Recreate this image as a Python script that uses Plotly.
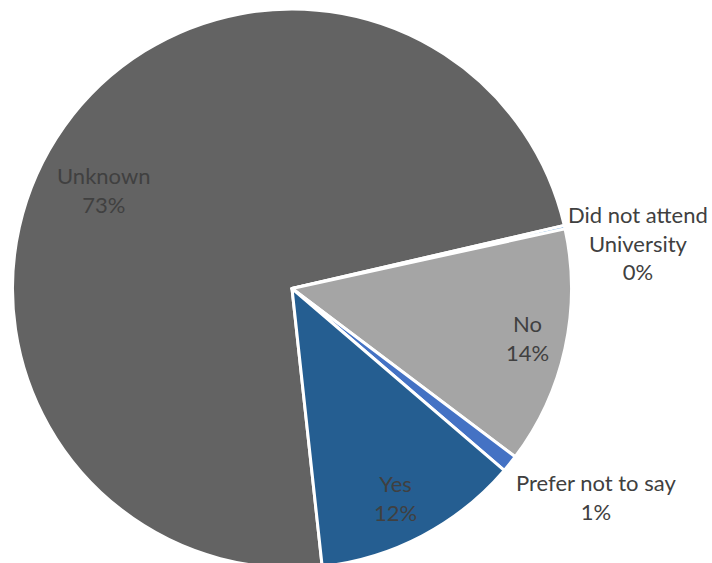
import plotly.graph_objects as go

categories = ["Unknown", "Did not attend University", "No", "Prefer not to say", "Yes"]
values = [73.1, 0.2, 13.7, 1.0, 12.0]
colors = ["#636363", "#5B9BD5", "#A5A5A5", "#4472C4", "#255E91"]
label_text = ["Unknown", "Did not attend<br>University", "No", "Prefer not to say", "Yes"]

# label placement (pixel centres of the text blocks) - styling only
label_px = [(103, 190), (638, 242.5), (527, 338), (596, 497), (395, 498)]

W, H = 712, 568
total = sum(values)

fig = go.Figure(go.Pie(
    labels=categories,
    values=values,
    textinfo="none",
    sort=False,
    direction="clockwise",
    rotation=173.8,
    marker=dict(colors=colors, line=dict(color="white", width=3)),
    domain=dict(x=[12.5 / W, 571.5 / W], y=[0, 559 / H]),
    showlegend=False,
    automargin=False,
    hoverinfo="label+percent",
))

annotations = []
for txt, v, (px, py) in zip(label_text, values, label_px):
    pct = round(v / total * 100)
    annotations.append(dict(
        x=px / W, y=1 - py / H, xref="paper", yref="paper",
        text=f"{txt}<br>{pct}%", showarrow=False,
        xanchor="center", yanchor="middle", align="center",
        font=dict(family="Lato", size=22, color="#404040"),
    ))

fig.update_layout(
    width=W,
    height=H,
    margin=dict(l=0, r=0, t=0, b=0),
    paper_bgcolor="white",
    plot_bgcolor="white",
    font=dict(family="Lato", size=22, color="#404040"),
    annotations=annotations,
)

fig.write_html(
    "out.html",
    config={"displayModeBar": False},
    post_script="document.body.style.margin='0';"
                "document.body.style.overflow='hidden';"
                "document.documentElement.style.overflow='hidden';",
)
